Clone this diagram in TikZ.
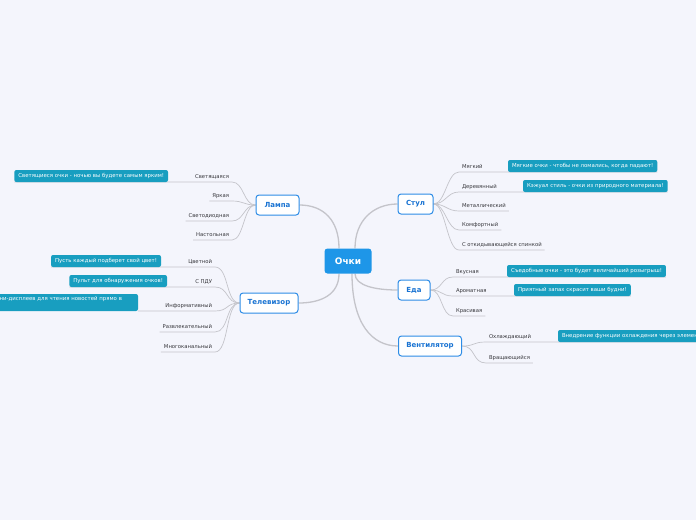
\documentclass[tikz,border=0pt]{standalone}
\usepackage{fontspec}
\setmainfont{DejaVu Sans}
\usetikzlibrary{backgrounds}

\definecolor{canvas}{RGB}{244,245,252}
\definecolor{rootblue}{RGB}{30,150,232}
\definecolor{topicline}{RGB}{45,140,230}
\definecolor{topictext}{RGB}{25,115,210}
\definecolor{noteteal}{RGB}{24,158,192}
\definecolor{wire}{RGB}{196,196,202}
\definecolor{leaftext}{RGB}{55,55,60}

\begin{document}
\begin{tikzpicture}[x=1pt, y=-1pt,
  root/.style={fill=rootblue, text=white, rounded corners=3pt,
    minimum width=47pt, minimum height=25pt, inner sep=2pt,
    font=\fontsize{9}{10}\selectfont\bfseries},
  topic/.style={draw=topicline, fill=white, text=topictext, rounded corners=3pt,
    line width=1pt, minimum height=20pt, inner sep=2pt,
    font=\fontsize{7}{8}\selectfont\bfseries},
  leaf/.style={text=leaftext, inner xsep=3pt, inner ysep=0pt, outer sep=0pt,
    text depth=4pt, font=\fontsize{5.3}{6}\selectfont},
  note/.style={fill=noteteal, text=white, rounded corners=2pt,
    minimum height=12pt, inner xsep=4pt, inner ysep=2pt, outer sep=0pt,
    font=\fontsize{5.4}{6.5}\selectfont},
  trunk/.style={draw=wire, line width=1.3pt},
  branch/.style={draw=wire, line width=0.7pt}
]
\useasboundingbox (0,0) rectangle (696,520);
\begin{scope}[on background layer]
  \fill[canvas] (0,0) rectangle (696,520);
\end{scope}

% centre and main topics
\node[root] (ochki) at (348,261) {Очки};
\node[topic, minimum width=43pt] (lampa) at (277.5,205) {Лампа};
\node[topic, minimum width=58pt] (tv) at (269,303) {Телевизор};
\node[topic, minimum width=35pt] (stul) at (415.5,204) {Стул};
\node[topic, minimum width=32pt] (eda) at (414,290) {Еда};
\node[topic, minimum width=63pt] (vent) at (430,346) {Вентилятор};

% Лампа
\node[leaf, anchor=south east] (svet) at (232,182) {Светящаяся};
\node[leaf, anchor=south east] (yark) at (232,201) {Яркая};
\node[leaf, anchor=south east] (diod) at (232,221) {Светодиодная};
\node[leaf, anchor=south east] (nast) at (232,240) {Настольная};
\node[note, anchor=south east] (svetnote) at (168,182)
  {Светящиеся очки - ночью вы будете самым ярким!};

% Телевизор
\node[leaf, anchor=south east] (cvet) at (215,267) {Цветной};
\node[leaf, anchor=south east] (pdu) at (215,287) {С ПДУ};
\node[leaf, anchor=south east] (info) at (215,311) {Информативный};
\node[leaf, anchor=south east] (razvl) at (215,332) {Развлекательный};
\node[leaf, anchor=south east] (mnog) at (215,352) {Многоканальный};
\node[note, anchor=south east] (cvetnote) at (161,267)
  {Пусть каждый подберет свой цвет!};
\node[note, anchor=south east] (pdunote) at (167,287)
  {Пульт для обнаружения очков!};
\node[note, anchor=north east, text width=160pt, align=right,
  text height=4pt, text depth=9pt] (infonote) at (138,294)
  {мини-дисплеев для чтения новостей прямо в\hspace*{12pt}};

% Стул
\node[leaf, anchor=south west] (myag) at (459,172) {Мягкий};
\node[leaf, anchor=south west] (derev) at (459,192) {Деревянный};
\node[leaf, anchor=south west] (metal) at (459,211) {Металлический};
\node[leaf, anchor=south west] (komf) at (459,230) {Комфортный};
\node[leaf, anchor=south west] (spin) at (459,250) {С откидывающейся спинкой};
\node[note, anchor=south west] (myagnote) at (508,172)
  {Мягкие очки - чтобы не ломались, когда падают!};
\node[note, anchor=south west] (derevnote) at (523,192)
  {Кэжуал стиль - очки из природного материала!};

% Еда
\node[leaf, anchor=south west] (vkus) at (453,277) {Вкусная};
\node[leaf, anchor=south west] (arom) at (453,296) {Ароматная};
\node[leaf, anchor=south west] (kras) at (453,316) {Красивая};
\node[note, anchor=south west] (vkusnote) at (507,277)
  {Съедобные очки - это будет величайший розыгрыш!};
\node[note, anchor=south west] (aromnote) at (514,296)
  {Приятный запах скрасит ваши будни!};

% Вентилятор
\node[leaf, anchor=south west] (ohl) at (486,342) {Охлаждающий};
\node[leaf, anchor=south west] (vrash) at (486,363) {Вращающийся};
\node[note, anchor=south west] (ohlnote) at (558,342)
  {Внедрение функции охлаждения через элемен};

\begin{scope}[on background layer]
  \draw[trunk] ([xshift=7pt]ochki.north) .. controls +(0,-28) and +(-24,0) .. (stul.west);
  \draw[trunk] ([xshift=-9pt]ochki.north) .. controls +(0,-28) and +(24,0) .. (lampa.east);
  \draw[trunk] ([xshift=-9pt]ochki.south) .. controls +(0,20) and +(24,0) .. (tv.east);
  \draw[trunk] ([xshift=7pt]ochki.south) .. controls +(0,12) and +(-22,0) .. (eda.west);
  \draw[trunk] ([xshift=4pt]ochki.south) .. controls +(0,50) and +(-26,0) .. (vent.west);

  \draw[branch] (lampa.west) .. controls +(-12,0) and +(12,0) .. (svet.south east) -- (svetnote.south west);
  \draw[branch] (lampa.west) .. controls +(-12,0) and +(12,0) .. (yark.south east) -- (yark.south west);
  \draw[branch] (lampa.west) .. controls +(-12,0) and +(12,0) .. (diod.south east) -- (diod.south west);
  \draw[branch] (lampa.west) .. controls +(-12,0) and +(12,0) .. (nast.south east) -- (nast.south west);

  \draw[branch] (tv.west) .. controls +(-14,0) and +(14,0) .. (cvet.south east) -- (cvetnote.south west);
  \draw[branch] (tv.west) .. controls +(-14,0) and +(14,0) .. (pdu.south east) -- (pdunote.south west);
  \draw[branch] (tv.west) .. controls +(-14,0) and +(14,0) .. (info.south east) -- (infonote.south east);
  \draw[branch] (tv.west) .. controls +(-14,0) and +(14,0) .. (razvl.south east) -- (razvl.south west);
  \draw[branch] (tv.west) .. controls +(-14,0) and +(14,0) .. (mnog.south east) -- (mnog.south west);

  \draw[branch] (stul.east) .. controls +(12,0) and +(-12,0) .. (myag.south west) -- (myagnote.south east);
  \draw[branch] (stul.east) .. controls +(12,0) and +(-12,0) .. (derev.south west) -- (derevnote.south east);
  \draw[branch] (stul.east) .. controls +(12,0) and +(-12,0) .. (metal.south west) -- (metal.south east);
  \draw[branch] (stul.east) .. controls +(12,0) and +(-12,0) .. (komf.south west) -- (komf.south east);
  \draw[branch] (stul.east) .. controls +(12,0) and +(-12,0) .. (spin.south west) -- (spin.south east);

  \draw[branch] (eda.east) .. controls +(12,0) and +(-12,0) .. (vkus.south west) -- (vkusnote.south east);
  \draw[branch] (eda.east) .. controls +(12,0) and +(-12,0) .. (arom.south west) -- (aromnote.south east);
  \draw[branch] (eda.east) .. controls +(12,0) and +(-12,0) .. (kras.south west) -- (kras.south east);

  \draw[branch] (vent.east) .. controls +(14,0) and +(-14,0) .. (ohl.south west) -- (ohlnote.south east);
  \draw[branch] (vent.east) .. controls +(14,0) and +(-14,0) .. (vrash.south west) -- (vrash.south east);
\end{scope}
\end{tikzpicture}
\end{document}
